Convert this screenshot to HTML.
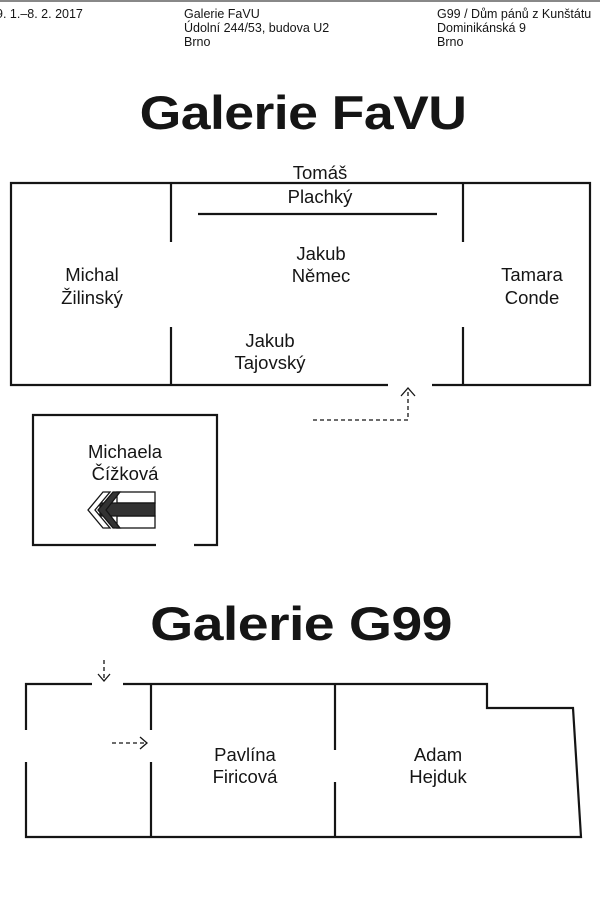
<!DOCTYPE html>
<html><head><meta charset="utf-8"><style>
html,body{margin:0;padding:0;background:#fff;}
body{width:600px;height:900px;overflow:hidden;position:relative;font-family:"Liberation Sans",sans-serif;color:#151515;}
.h{position:absolute;top:7px;font-size:12.5px;line-height:14px;white-space:nowrap;}
.t{position:absolute;left:0;width:600px;text-align:center;font-weight:bold;font-size:47px;letter-spacing:-0.5px;}
svg{position:absolute;left:0;top:0;}
</style></head><body>
<div style="position:absolute;left:0;top:0;width:600px;height:2px;background:#888"></div>
<div class="h" style="left:-4px">9. 1.–8. 2. 2017</div>
<div class="h" style="left:184px">Galerie FaVU<br>Údolní 244/53, budova U2<br>Brno</div>
<div class="h" style="left:437px">G99 / Dům pánů z Kunštátu<br>Dominikánská 9<br>Brno</div>
<div class="t" style="top:85px;transform:scaleX(1.14);left:3px">Galerie FaVU</div>
<div class="t" style="top:596px;transform:scaleX(1.18);left:1px">Galerie G99</div>
<svg width="600" height="900" viewBox="0 0 600 900">
<g stroke="#151515" stroke-width="2.2" fill="none">
<polyline points="388,385 11,385 11,183 590,183 590,385 432,385"/>
<line x1="171" y1="183" x2="171" y2="242"/><line x1="171" y1="327" x2="171" y2="385"/>
<line x1="463" y1="183" x2="463" y2="242"/><line x1="463" y1="327" x2="463" y2="385"/>
<line x1="198" y1="214" x2="437" y2="214"/>
<polyline points="156,545 33,545 33,415 217,415 217,545 194,545"/>
<polyline points="92,684 26,684 26,730"/>
<polyline points="26,762 26,837 581,837 573,708 487,708 487,684 123,684"/>
<line x1="151" y1="684" x2="151" y2="730"/><line x1="151" y1="762" x2="151" y2="837"/>
<line x1="335" y1="684" x2="335" y2="750"/><line x1="335" y1="782" x2="335" y2="837"/>
</g>
<g stroke="#151515" stroke-width="1.3" fill="none">
<polyline points="313,420 408,420 408,389" stroke-dasharray="4,3"/>
<polyline points="401,396 408,388 415,396"/>
<line x1="104" y1="660" x2="104" y2="680" stroke-dasharray="4,3"/>
<polyline points="98,674 104,681 110,674"/>
<line x1="112" y1="743" x2="146" y2="743" stroke-dasharray="4,3"/>
<polyline points="140,737 147,743 140,749"/>
</g>
<g stroke="#151515" stroke-width="1.3">
<rect x="117" y="492" width="38" height="11" fill="#fff"/>
<rect x="117" y="516" width="38" height="12" fill="#fff"/>
<polygon points="155,503 155,516 100,516 100,503" fill="#333"/>
<polygon points="103,492 110,492 95,510 110,528 103,528 88,510" fill="#fff"/>
<polygon points="113,492 120,492 106,510 120,528 113,528 98,510" fill="#333"/>
</g>
<g font-family="Liberation Sans, sans-serif" font-size="18.5" fill="#151515" text-anchor="middle">
<text x="320" y="179">Tomáš</text><text x="320" y="203">Plachký</text>
<text x="321" y="260">Jakub</text><text x="321" y="282">Němec</text>
<text x="92" y="281">Michal</text><text x="92" y="304">Žilinský</text>
<text x="532" y="281">Tamara</text><text x="532" y="304">Conde</text>
<text x="270" y="347">Jakub</text><text x="270" y="369">Tajovský</text>
<text x="125" y="458">Michaela</text><text x="125" y="480">Čížková</text>
<text x="245" y="761">Pavlína</text><text x="245" y="783">Firicová</text>
<text x="438" y="761">Adam</text><text x="438" y="783">Hejduk</text>
</g>
</svg>
</body></html>
